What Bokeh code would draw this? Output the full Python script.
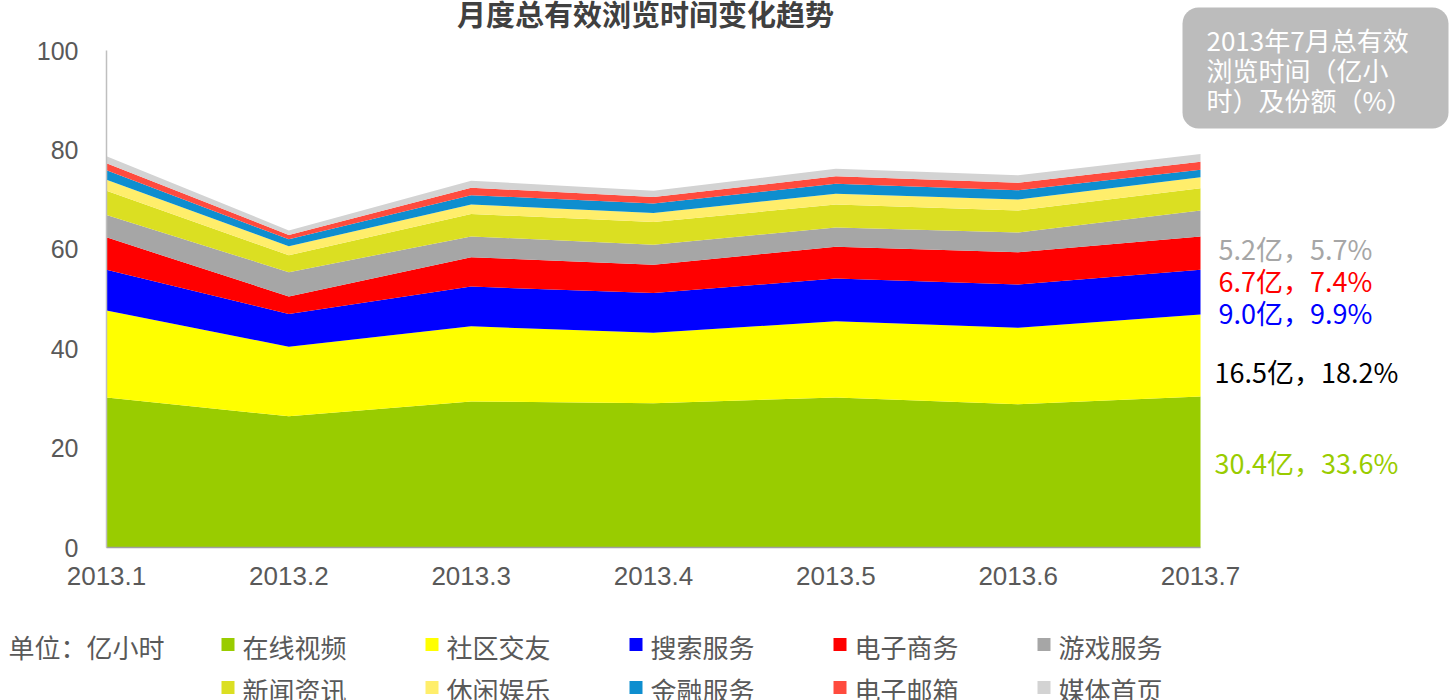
from bokeh.plotting import figure
from bokeh.models import (ColumnDataSource, Range1d, FixedTicker, Label, BoxAnnotation,
                          LinearAxis)
from bokeh.embed import file_html
from bokeh.resources import INLINE

# ---------------- data ----------------
months = ["2013.1", "2013.2", "2013.3", "2013.4", "2013.5", "2013.6", "2013.7"]
online_video = [30.2, 26.4, 29.4, 29.0, 30.2, 28.8, 30.4]
social = [17.5, 14.0, 15.1, 14.2, 15.3, 15.4, 16.5]
search = [8.2, 6.6, 8.0, 8.0, 8.6, 8.7, 9.0]
ecommerce = [6.5, 3.5, 5.9, 5.7, 6.4, 6.5, 6.7]
games = [4.5, 4.9, 4.2, 4.0, 3.9, 4.0, 5.2]
news = [4.9, 3.4, 4.5, 4.6, 4.6, 4.4, 4.5]
leisure = [2.2, 1.8, 1.9, 1.8, 2.2, 2.2, 2.2]
finance = [1.9, 1.4, 1.9, 1.9, 2.0, 1.9, 1.5]
email = [1.4, 0.9, 1.5, 1.3, 1.5, 1.5, 1.6]
portal = [1.4, 0.9, 1.4, 1.3, 1.5, 1.5, 1.6]

series_names = ["在线视频", "社区交友", "搜索服务", "电子商务", "游戏服务",
                "新闻资讯", "休闲娱乐", "金融服务", "电子邮箱", "媒体首页"]
series_values = [online_video, social, search, ecommerce, games,
                 news, leisure, finance, email, portal]
colors = ["#99CC00", "#FFFF00", "#0000FF", "#FF0000", "#A6A6A6",
          "#DBDF22", "#FFEE6B", "#0E8ECF", "#FF4B3E", "#D3D3D3"]

y_ticks = [0, 20, 40, 60, 80, 100]

title_text = "月度总有效浏览时间变化趋势"
unit_text = "单位：亿小时"
box_lines = ["2013年7月总有效", "浏览时间（亿小", "时）及份额（%）"]
end_labels = ["5.2亿，5.7%", "6.7亿，7.4%", "9.0亿，9.9%", "16.5亿，18.2%", "30.4亿，33.6%"]
end_label_colors = ["#A6A6A6", "#FF0000", "#0000FF", "#000000", "#99CC00"]

CJK = "Noto Sans CJK SC"
TXT = "#595959"

# ---------------- layout geometry (pixels) ----------------
W, H = 1450, 700
PX_LEFT, PX_RIGHT = 106, 1200      # pixel of first / last month
PX_Y0, PX_Y100 = 547, 50           # pixel of y=0 / y=100

n = len(months)
x_idx = list(range(n))
xs = (PX_RIGHT - PX_LEFT) / (n - 1)        # px per x unit
ys = (PX_Y0 - PX_Y100) / 100.0             # px per y unit
x_range = Range1d(-PX_LEFT / xs, (W - PX_LEFT) / xs)
y_range = Range1d(-(H - PX_Y0) / ys, PX_Y0 / ys)

data = {"x": x_idx}
for nm, v in zip(series_names, series_values):
    data[nm] = v
source = ColumnDataSource(data)

p = figure(width=W, height=H, x_range=x_range, y_range=y_range,
           output_backend="svg", toolbar_location=None,
           x_axis_location=None, y_axis_location=None,
           min_border=0, min_border_left=0, min_border_right=0,
           min_border_top=0, min_border_bottom=0)
p.outline_line_color = None
p.xgrid.visible = False
p.ygrid.visible = False
p.background_fill_color = "white"
p.border_fill_color = "white"

renderers = p.varea_stack(stackers=series_names, x="x", color=colors, source=source)

# axes drawn at fixed data locations (take no panel space)
yaxis = LinearAxis(fixed_location=0, bounds=(0, 100), ticker=FixedTicker(ticks=y_ticks))
yaxis.major_tick_line_color = None
yaxis.minor_tick_line_color = None
yaxis.axis_line_color = "#BFBFBF"
yaxis.axis_line_width = 1.5
yaxis.major_label_standoff = 22
yaxis.major_label_text_font = "Liberation Sans"
yaxis.major_label_text_font_size = "25px"
yaxis.major_label_text_color = TXT
p.add_layout(yaxis, "left")

xaxis = LinearAxis(fixed_location=0, bounds=(0, n - 1), ticker=FixedTicker(ticks=x_idx))
xaxis.major_label_overrides = {i: m for i, m in zip(x_idx, months)}
xaxis.major_tick_line_color = None
xaxis.minor_tick_line_color = None
xaxis.axis_line_color = "#A0A0A0"
xaxis.axis_line_width = 1.5
xaxis.major_label_standoff = 13
xaxis.major_label_text_font = "Liberation Sans"
xaxis.major_label_text_font_size = "26px"
xaxis.major_label_text_color = TXT
p.add_layout(xaxis, "below")


def scr(X, Y):
    # page pixel -> screen units (origin bottom-left of the full-canvas frame)
    return X, H - Y


def label(X, Y, text, size, color, font=CJK, align="left", style="normal", level="annotation"):
    lx, ly = scr(X, Y)
    p.add_layout(Label(x=lx, y=ly, x_units="screen", y_units="screen", text=text,
                       text_font=font, text_font_size=size, text_font_style=style,
                       text_color=color, text_align=align, text_baseline="middle",
                       level=level))


# title
label(645, 12, title_text, "29px", "#404040", align="center", style="bold")

# annotation box
bl, bt = scr(1182, 7)
br, bb = scr(1448, 128)
p.add_layout(BoxAnnotation(left=bl, right=br, top=bt, bottom=bb,
                           left_units="screen", right_units="screen",
                           top_units="screen", bottom_units="screen",
                           fill_color="#BCBCBC", fill_alpha=1.0, line_color=None,
                           border_radius=16, level="annotation"))
for i, line in enumerate(box_lines):
    label(1206, 39 + 30 * i, line, "26px", "white", style="normal", level="overlay")

# end labels
end_pos = [(1218, 248), (1218, 280), (1218, 312), (1214, 371), (1214, 462)]
for t, c, (X, Y) in zip(end_labels, end_label_colors, end_pos):
    label(X, Y, t, "27px", c)

# legend (manual)
label(8, 646, unit_text, "26px", TXT)
col_x = [221, 425, 629, 833, 1037]
row_y = [644, 687]
for k, (name, col) in enumerate(zip(series_names, colors)):
    r, c = divmod(k, 5)
    X0 = col_x[c]
    Yc = row_y[r]
    l, t = scr(X0, Yc - 6.5)
    rr, b = scr(X0 + 13, Yc + 6.5)
    p.add_layout(BoxAnnotation(left=l, right=rr, top=t, bottom=b,
                               left_units="screen", right_units="screen",
                               top_units="screen", bottom_units="screen",
                               fill_color=col, fill_alpha=1.0, line_color=None))
    label(X0 + 21, Yc + 2, name, "26px", TXT)

open("out.html", "w").write(file_html(p, INLINE))
